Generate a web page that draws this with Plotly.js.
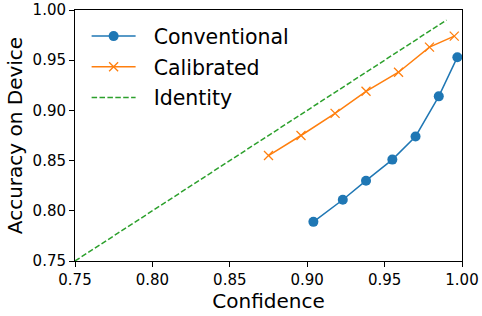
<!DOCTYPE html>
<html>
<head>
<meta charset="utf-8">
<script src="https://cdn.plot.ly/plotly-3.0.1.min.js"></script>
<style>html,body{margin:0;padding:0;background:#fff;} #chart{width:482px;height:316px;}</style>
</head>
<body>
<div id="chart"></div>
<script>
const convConfidence = [0.904, 0.923, 0.938, 0.955, 0.970, 0.985, 0.997];
const convAccuracy   = [0.789, 0.811, 0.830, 0.851, 0.874, 0.914, 0.953];
const calibConfidence = [0.875, 0.896, 0.918, 0.938, 0.959, 0.979, 0.995];
const calibAccuracy   = [0.855, 0.875, 0.897, 0.919, 0.938, 0.963, 0.974];
const identityX = [0.75, 0.99];
const identityY = [0.75, 0.99];
const seriesNames = ["Conventional", "Calibrated", "Identity"];
const xTicks = [0.75, 0.80, 0.85, 0.90, 0.95, 1.00];
const yTicks = [0.75, 0.80, 0.85, 0.90, 0.95, 1.00];

const font = "DejaVu Sans, sans-serif";
const pad = "\u00a0\u00a0";
const traces = [
  {x: convConfidence, y: convAccuracy, name: pad + seriesNames[0], mode: "lines+markers",
   line: {color: "#1f77b4", width: 1.5}, marker: {symbol: "circle", size: 10, color: "#1f77b4"},
   legendgroup: "a"},
  {x: calibConfidence, y: calibAccuracy, name: pad + seriesNames[1], mode: "lines+markers",
   line: {color: "#ff7f0e", width: 1.5}, marker: {symbol: "x-thin-open", size: 9, color: "#ff7f0e", line: {color: "#ff7f0e", width: 1.3}},
   legendgroup: "b"},
  {x: identityX, y: identityY, name: pad + seriesNames[2], mode: "lines",
   line: {color: "#2ca02c", width: 1.5, dash: "5.5px,2.4px"}, legendgroup: "c"}
];
const axisCommon = {
  showgrid: false, zeroline: false, showline: true, linecolor: "#000", linewidth: 1,
  mirror: true, ticks: "outside", ticklen: 5, tickcolor: "#000", tickwidth: 1,
  tickfont: {family: font, size: 15, color: "#000"}, tickformat: ".2f"
};
const layout = {
  width: 482, height: 316,
  margin: {l: 75, r: 20, t: 10, b: 55},
  paper_bgcolor: "#fff", plot_bgcolor: "#fff",
  font: {family: font, color: "#000"},
  showlegend: true,
  legend: {x: 0.03, y: 0.975, xanchor: "left", yanchor: "top", bgcolor: "rgba(255,255,255,0)",
           font: {family: font, size: 20.5, color: "#000"}, traceorder: "grouped", tracegroupgap: 1, itemwidth: 44},
  xaxis: Object.assign({}, axisCommon, {range: [0.75, 1.00], tickvals: xTicks,
          title: {text: "Confidence", font: {family: font, size: 20, color: "#000"}, standoff: 2}}),
  yaxis: Object.assign({}, axisCommon, {range: [0.75, 1.00], tickvals: yTicks,
          title: {text: "Accuracy on Device", font: {family: font, size: 20, color: "#000"}, standoff: 4}})
};
Plotly.newPlot("chart", traces, layout, {displayModeBar: false, staticPlot: true});
</script>
</body>
</html>
